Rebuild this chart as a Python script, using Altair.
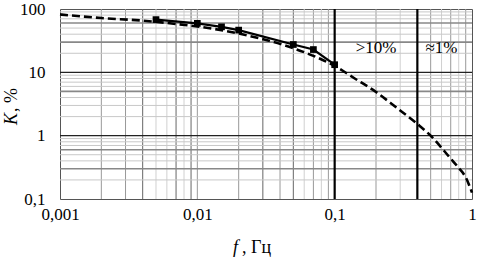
import altair as alt
import pandas as pd

# ---- data ----
f_dash = [0.001, 0.002, 0.004, 0.007, 0.01, 0.02, 0.05, 0.07, 0.1, 0.14, 0.2, 0.28, 0.4, 0.5, 0.69, 0.8, 0.9, 1.0]
k_dash = [82, 72, 65.5, 58, 53, 41, 24, 18.2, 12.6, 8.0, 4.9, 2.8, 1.53, 1.0, 0.45, 0.31, 0.22, 0.126]

f_meas = [0.005, 0.01, 0.015, 0.02, 0.05, 0.07, 0.1]
k_meas = [68, 59.3, 52.3, 46.4, 27.5, 22.9, 13.2]

x_ticks = [0.001, 0.01, 0.1, 1]
y_ticks = [0.1, 1, 10, 100]

grid_x_dark = [0.004, 0.007, 0.009, 0.03, 0.05]
grid_x_mid = [0.002, 0.003, 0.01, 0.02, 0.04, 0.07, 0.09, 0.2, 0.5, 0.7, 0.9]
grid_x_light = [0.005, 0.006, 0.008, 0.06, 0.08, 0.3, 0.6, 0.8]
grid_y_major = [1, 10]
grid_y_mid = [60, 30, 5, 0.6, 0.3]
grid_y_light = [90, 80, 70, 50, 40, 20, 9, 8, 7, 6, 4, 3, 2, 0.9, 0.8, 0.7, 0.5, 0.4, 0.2]

boundary_f = [0.1, 0.4]
zone_labels = [">10%", "\u22481%"]
zone_f = [0.2, 0.6]
zone_k = [24, 24]

FONT = "Liberation Serif"
W, H = 412, 190

xs = alt.Scale(type="log", domain=[0.001, 1], nice=False)
ys = alt.Scale(type="log", domain=[0.1, 100], nice=False)

AX_X = alt.Axis(values=x_ticks, labelExpr="replace(toString(datum.value), '.', ',')",
                title=None, grid=False, ticks=False, domain=False, labelFont=FONT,
                labelFontSize=17, labelColor="black", labelPadding=7, labelFlush=False)
AX_Y = alt.Axis(values=y_ticks, labelExpr="replace(toString(datum.value), '.', ',')",
                title=None, grid=False, ticks=False, domain=False, labelFont=FONT,
                labelFontSize=17, labelColor="black", labelPadding=15)


def vgrid(vals, color, width):
    return alt.Chart(pd.DataFrame({"f": vals})).mark_rule(color=color, strokeWidth=width).encode(
        x=alt.X("f:Q", scale=xs, axis=AX_X))


def hgrid(vals, color, width):
    return alt.Chart(pd.DataFrame({"k": vals})).mark_rule(color=color, strokeWidth=width).encode(
        y=alt.Y("k:Q", scale=ys, axis=AX_Y))


dash_df = pd.DataFrame({"f": f_dash, "k": k_dash})
meas_df = pd.DataFrame({"f": f_meas, "k": k_meas})
zone_df = pd.DataFrame({"f": zone_f, "k": zone_k, "t": zone_labels})

enc = dict(x=alt.X("f:Q", scale=xs, axis=AX_X), y=alt.Y("k:Q", scale=ys, axis=AX_Y))

dashed = alt.Chart(dash_df).mark_line(color="black", strokeWidth=2.6, strokeDash=[8, 4],
                                      interpolate="monotone").encode(**enc)
solid = alt.Chart(meas_df).mark_line(color="black", strokeWidth=2.2).encode(**enc)
squares = alt.Chart(meas_df).mark_square(color="black", size=45, opacity=1).encode(**enc)
zones = alt.Chart(zone_df).mark_text(font=FONT, fontSize=17, color="black").encode(
    text="t:N", **enc)

xt1 = alt.Chart(pd.DataFrame({"t": ["f"]})).mark_text(
    font=FONT, fontSize=18, fontStyle="italic", align="left", baseline="alphabetic", color="black"
).encode(text="t:N", x=alt.value(173), y=alt.value(244))
xt2 = alt.Chart(pd.DataFrame({"t": [", \u0413\u0446"]})).mark_text(
    font=FONT, fontSize=18, align="left", baseline="alphabetic", color="black"
).encode(text="t:N", x=alt.value(182), y=alt.value(244))
yt1 = alt.Chart(pd.DataFrame({"t": ["K"]})).mark_text(
    font=FONT, fontSize=18, fontStyle="italic", align="left", baseline="alphabetic", angle=270,
    color="black"
).encode(text="t:N", x=alt.value(-43), y=alt.value(116))
yt2 = alt.Chart(pd.DataFrame({"t": [", %"]})).mark_text(
    font=FONT, fontSize=18, align="left", baseline="alphabetic", angle=270, color="black"
).encode(text="t:N", x=alt.value(-43), y=alt.value(103))

chart = alt.layer(
    vgrid(grid_x_light, "#d0d0d0", 1),
    vgrid(grid_x_mid, "#999999", 1),
    vgrid(grid_x_dark, "#666666", 1),
    hgrid(grid_y_light, "#c8c8c8", 1),
    hgrid(grid_y_mid, "#888888", 1.6),
    hgrid(grid_y_major, "#222222", 1.2),
    vgrid(boundary_f, "black", 2.2),
    dashed, solid, squares, zones,
    xt1, xt2, yt1, yt2,
).properties(
    width=W, height=H,
    autosize=alt.AutoSizeParams(type="none"),
    padding={"left": 60, "top": 9, "right": 5, "bottom": 63},
    background="white",
).configure_view(stroke="#555555", strokeWidth=1)

chart.save("out.html", embed_options={"renderer": "svg", "actions": False})
